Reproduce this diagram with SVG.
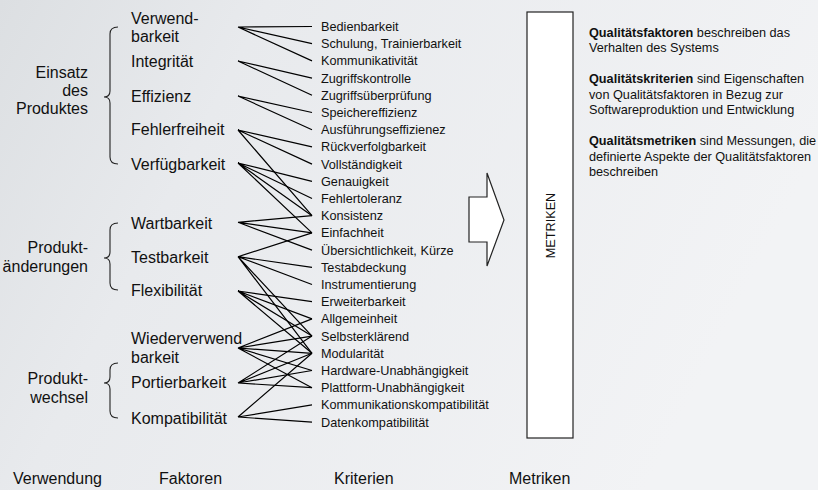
<svg xmlns="http://www.w3.org/2000/svg" width="818" height="490" viewBox="0 0 818 490">
  <defs>
    <linearGradient id="bg" x1="0" y1="0" x2="1" y2="0.3">
      <stop offset="0" stop-color="#dcdfe2"/>
      <stop offset="0.3" stop-color="#e8eaed"/>
      <stop offset="1" stop-color="#f2f3f5"/>
    </linearGradient>
    <style>
      .big { font-family: "Liberation Sans", Arial, sans-serif; font-size: 16px; fill: #111; }
      .grp { font-family: "Liberation Sans", Arial, sans-serif; font-size: 16px; fill: #111; text-anchor: end; }
      .crit { font-family: "Liberation Sans", Arial, sans-serif; font-size: 12.7px; fill: #111; }
      .note { font-family: "Liberation Sans", Arial, sans-serif; font-size: 12.7px; fill: #111; }
      .note tspan.b { font-weight: bold; }
      .brace { fill: none; stroke: #222; stroke-width: 1.1; }
      .link { stroke: #000; stroke-width: 1.2; fill: none; }
      .box { fill: #fff; stroke: #222; stroke-width: 1.2; }
    </style>
  </defs>

  <!-- backdrop -->
  <rect x="0" y="0" width="818" height="490" fill="url(#bg)"/>

  <!-- usage groups with braces -->
  <g id="einsatz">
    <path class="brace" d="M118,27 Q110,27 110,34 L110,91 Q110,97 104,97 Q110,97 110,103 L110,157 Q110,164 118,164"/>
    <text class="grp" x="88" y="77.7">Einsatz</text>
    <text class="grp" x="88" y="96">des</text>
    <text class="grp" x="88" y="114.3">Produktes</text>
  </g>
  <g id="aenderungen">
    <path class="brace" d="M118,223 Q110,223 110,230 L110,252 Q110,258 104,258 Q110,258 110,264 L110,283 Q110,290 118,290"/>
    <text class="grp" x="88" y="253.3">Produkt-</text>
    <text class="grp" x="88" y="271.7">änderungen</text>
  </g>
  <g id="wechsel">
    <path class="brace" d="M118,363 Q110,363 110,370 L110,377 Q110,383 104,383 Q110,383 110,389 L110,411 Q110,418 118,418"/>
    <text class="grp" x="88" y="384.3">Produkt-</text>
    <text class="grp" x="88" y="402.7">wechsel</text>
  </g>

  <!-- quality factors -->
  <g id="faktoren">
    <g id="f-verwendbarkeit"><text class="big" x="131" y="23.5">Verwend-</text><text class="big" x="131" y="42">barkeit</text></g>
    <g id="f-integritaet"><text class="big" x="131" y="66.8">Integrität</text></g>
    <g id="f-effizienz"><text class="big" x="131" y="101.6">Effizienz</text></g>
    <g id="f-fehlerfreiheit"><text class="big" x="131" y="135">Fehlerfreiheit</text></g>
    <g id="f-verfuegbarkeit"><text class="big" x="131" y="169.5">Verfügbarkeit</text></g>
    <g id="f-wartbarkeit"><text class="big" x="131" y="229.3">Wartbarkeit</text></g>
    <g id="f-testbarkeit"><text class="big" x="131" y="262.7">Testbarkeit</text></g>
    <g id="f-flexibilitaet"><text class="big" x="131" y="296">Flexibilität</text></g>
    <g id="f-wiederverwendbarkeit"><text class="big" x="131" y="344.3">Wiederverwend</text><text class="big" x="131" y="362.7">barkeit</text></g>
    <g id="f-portierbarkeit"><text class="big" x="131" y="388.3">Portierbarkeit</text></g>
    <g id="f-kompatibilitaet"><text class="big" x="131" y="424">Kompatibilität</text></g>
  </g>

  <!-- quality criteria -->
  <g id="kriterien">
    <g id="k00"><text class="crit" x="321" y="31">Bedienbarkeit</text></g>
    <g id="k01"><text class="crit" x="321" y="48.2">Schulung, Trainierbarkeit</text></g>
    <g id="k02"><text class="crit" x="321" y="65.4">Kommunikativität</text></g>
    <g id="k03"><text class="crit" x="321" y="82.6">Zugriffskontrolle</text></g>
    <g id="k04"><text class="crit" x="321" y="99.8">Zugriffsüberprüfung</text></g>
    <g id="k05"><text class="crit" x="321" y="117">Speichereffizienz</text></g>
    <g id="k06"><text class="crit" x="321" y="134.2">Ausführungseffizienez</text></g>
    <g id="k07"><text class="crit" x="321" y="151.4">Rückverfolgbarkeit</text></g>
    <g id="k08"><text class="crit" x="321" y="168.6">Vollständigkeit</text></g>
    <g id="k09"><text class="crit" x="321" y="185.8">Genauigkeit</text></g>
    <g id="k10"><text class="crit" x="321" y="203">Fehlertoleranz</text></g>
    <g id="k11"><text class="crit" x="321" y="220.2">Konsistenz</text></g>
    <g id="k12"><text class="crit" x="321" y="237.4">Einfachheit</text></g>
    <g id="k13"><text class="crit" x="321" y="254.6">Übersichtlichkeit, Kürze</text></g>
    <g id="k14"><text class="crit" x="321" y="271.8">Testabdeckung</text></g>
    <g id="k15"><text class="crit" x="321" y="289">Instrumentierung</text></g>
    <g id="k16"><text class="crit" x="321" y="306.2">Erweiterbarkeit</text></g>
    <g id="k17"><text class="crit" x="321" y="323.4">Allgemeinheit</text></g>
    <g id="k18"><text class="crit" x="321" y="340.6">Selbsterklärend</text></g>
    <g id="k19"><text class="crit" x="321" y="357.8">Modularität</text></g>
    <g id="k20"><text class="crit" x="321" y="375">Hardware-Unabhängigkeit</text></g>
    <g id="k21"><text class="crit" x="321" y="392.2">Plattform-Unabhängigkeit</text></g>
    <g id="k22"><text class="crit" x="321" y="409.4">Kommunikationskompatibilität</text></g>
    <g id="k23"><text class="crit" x="321" y="426.6">Datenkompatibilität</text></g>
  </g>

  <!-- factor to criterion links -->
  <g id="connectors">
    <!-- Verwendbarkeit -->
    <path class="link" d="M238,27 L312,26.5 M238,27 L312,43.7 M238,27 L312,60.9"/>
    <!-- Integrität -->
    <path class="link" d="M238,61 L312,78.1 M238,61 L312,95.3"/>
    <!-- Effizienz -->
    <path class="link" d="M238,96 L312,112.5 M238,96 L312,129.7"/>
    <!-- Fehlerfreiheit -->
    <path class="link" d="M238,130 L312,146.9 M238,130 L312,164.1 M238,130 L312,215.7"/>
    <!-- Verfügbarkeit -->
    <path class="link" d="M238,163 L312,181.3 M238,163 L312,198.5 M238,163 L312,215.7 M238,163 L312,232.9"/>
    <!-- Wartbarkeit -->
    <path class="link" d="M238,222.3 L312,215.7 M238,222.3 L312,232.9 M238,222.3 L312,250.1"/>
    <!-- Testbarkeit -->
    <path class="link" d="M238,256.7 L312,232.9 M238,256.7 L312,267.3 M238,256.7 L312,284.5 M238,256.7 L312,336.1 M238,256.7 L312,353.3"/>
    <!-- Flexibilität -->
    <path class="link" d="M238,291 L312,301.7 M238,291 L312,318.9 M238,291 L312,336.1 M238,291 L312,353.3"/>
    <!-- Wiederverwendbarkeit -->
    <path class="link" d="M238,348 L312,318.9 M238,348 L312,336.1 M238,348 L312,353.3 M238,348 L312,370.5 M238,348 L312,387.7"/>
    <!-- Portierbarkeit -->
    <path class="link" d="M238,383 L312,336.1 M238,383 L312,353.3 M238,383 L312,370.5 M238,383 L312,387.7"/>
    <!-- Kompatibilität -->
    <path class="link" d="M238,417 L312,353.3 M238,417 L312,404.9 M238,417 L312,422.1"/>
  </g>

  <!-- block arrow towards the metrics -->
  <g id="pfeil">
    <polygon class="box" points="469,197 487,197 487,173 504,220 487,266 487,242 469,242"/>
  </g>

  <!-- metrics column -->
  <g id="metriken">
    <rect class="box" x="527" y="12" width="46" height="426"/>
    <text class="crit" transform="translate(555,225.5) rotate(-90)" text-anchor="middle">METRIKEN</text>
  </g>

  <!-- explanatory notes -->
  <g id="erlaeuterung">
    <text class="note" x="589" y="36.7"><tspan class="b">Qualitätsfaktoren</tspan> beschreiben das</text>
    <text class="note" x="589" y="51.9">Verhalten des Systems</text>
    <text class="note" x="589" y="83.3"><tspan class="b">Qualitätskriterien</tspan> sind Eigenschaften</text>
    <text class="note" x="589" y="98.6">von Qualitätsfaktoren in Bezug zur</text>
    <text class="note" x="589" y="113.9">Softwareproduktion und Entwicklung</text>
    <text class="note" x="589" y="145.3"><tspan class="b">Qualitätsmetriken</tspan> sind Messungen, die</text>
    <text class="note" x="589" y="160.5">definierte Aspekte der Qualitätsfaktoren</text>
    <text class="note" x="589" y="175.7">beschreiben</text>
  </g>

  <!-- column captions -->
  <g id="spalten">
    <text class="big" x="13" y="483.5">Verwendung</text>
    <text class="big" x="159" y="483.5">Faktoren</text>
    <text class="big" x="334" y="483.5">Kriterien</text>
    <text class="big" x="509" y="483.5">Metriken</text>
  </g>
</svg>
